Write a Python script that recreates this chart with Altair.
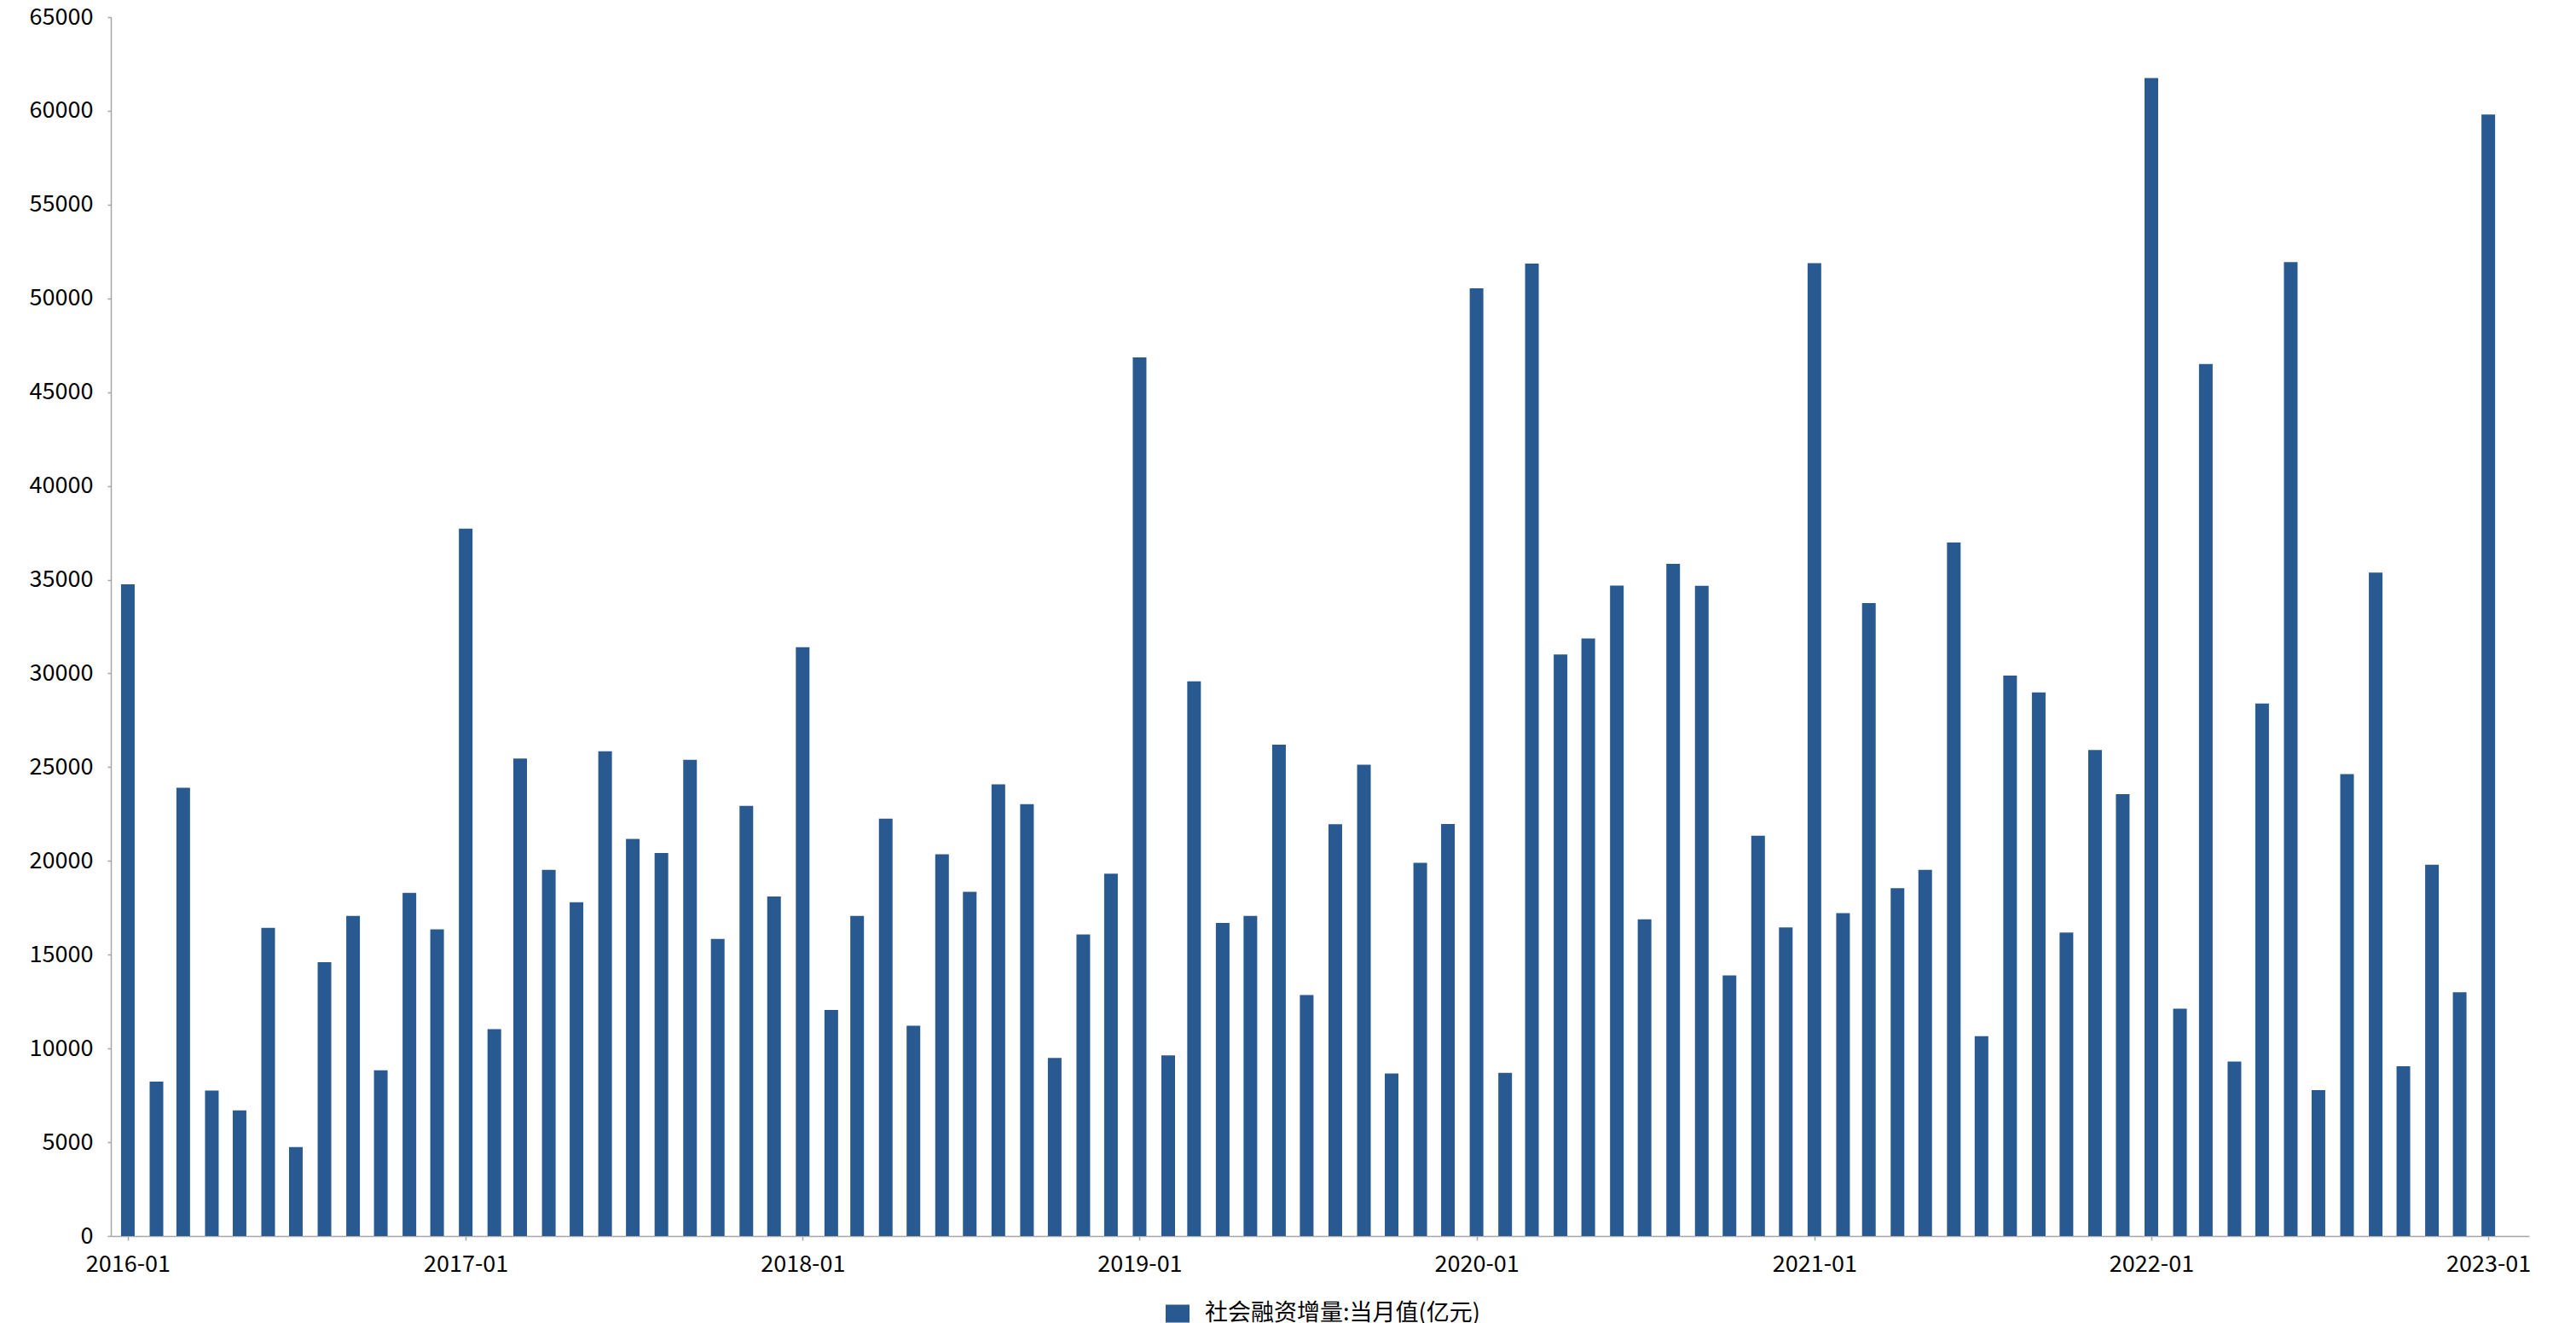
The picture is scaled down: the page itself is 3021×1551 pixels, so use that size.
import altair as alt
import pandas as pd

# Monthly values (亿元), 2016-01 .. 2023-01
v2016 = [34750, 8230, 23900, 7750, 6700, 16430, 4740, 14600, 17070, 8840, 18300, 16350]
v2017 = [37720, 11030, 25460, 19520, 17800, 25850, 21170, 20420, 25390, 15840, 22940, 18100]
v2018 = [31400, 12050, 17070, 22250, 11210, 20350, 18350, 24080, 23030, 9500, 16080, 19320]
v2019 = [46850, 9630, 29580, 16690, 17070, 26200, 12850, 21960, 25130, 8670, 19900, 21970]
v2020 = [50530, 8700, 51860, 31010, 31860, 34680, 16890, 35840, 34670, 13900, 21350, 16450]
v2021 = [51880, 17220, 33750, 18550, 19520, 36980, 10650, 29890, 28990, 16180, 25920, 23560]
v2022 = [61750, 12120, 46500, 9300, 28390, 51930, 7780, 24630, 35380, 9050, 19800, 13000]
v2023 = [59800]

years = [2016, 2017, 2018, 2019, 2020, 2021, 2022, 2023]
tick_years = [2016, 2017, 2018, 2019, 2020, 2021, 2022, 2023]
series_name = "社会融资增量:当月值(亿元)"
bar_color = "#285a91"

values = v2016 + v2017 + v2018 + v2019 + v2020 + v2021 + v2022 + v2023
months = []
for y, arr in zip(years, [v2016, v2017, v2018, v2019, v2020, v2021, v2022, v2023]):
    for m in range(1, len(arr) + 1):
        months.append(f"{y}-{m:02d}-01")

df = pd.DataFrame({"date": months, "value": values, "series": series_name})

FONT = "Noto Sans CJK SC"

chart = (
    alt.Chart(df)
    .mark_bar(size=16)
    .encode(
        x=alt.X(
            "date:T",
            title=None,
            scale=alt.Scale(
                type="utc",
                domain=[
                    alt.DateTime(year=2015, month=12, date=18, hours=5, utc=True),
                    alt.DateTime(year=2023, month=2, date=9, hours=14, utc=True),
                ],
            ),
            axis=alt.Axis(
                values=[alt.DateTime(year=y, month=1, date=1, utc=True) for y in tick_years],
                format="%Y-%m",
                labelAngle=0,
                tickSize=5,
                labelPadding=15,
                grid=False,
                labelOverlap=False,
                labelFont=FONT,
                labelFontSize=27,
                labelColor="#000000",
            ),
        ),
        y=alt.Y(
            "value:Q",
            title=None,
            scale=alt.Scale(domain=[0, 65000], nice=False),
            axis=alt.Axis(
                values=list(range(0, 65001, 5000)),
                format="d",
                tickSize=4,
                labelPadding=17,
                grid=False,
                labelFont=FONT,
                labelFontSize=27,
                labelColor="#000000",
            ),
        ),
        color=alt.Color(
            "series:N",
            scale=alt.Scale(domain=[series_name], range=[bar_color]),
            legend=alt.Legend(
                title=None,
                orient="none",
                legendX=1237,
                legendY=1506,
                symbolType="M-1,-0.75L1,-0.75L1,0.75L-1,0.75Z",
                symbolSize=784,
                symbolStrokeWidth=0,
                labelFontSize=27,
                labelFont=FONT,
                labelColor="#000000",
                labelOffset=18,
                labelLimit=0,
                padding=0,
            ),
        ),
    )
    .properties(
        width=2836,
        height=1429,
        background="white",
        autosize=alt.AutoSizeParams(type="none"),
        padding={"left": 122, "top": 12, "right": 20, "bottom": 102},
    )
    .configure_view(stroke=None)
    .configure_axis(
        domainColor="#a6a6a6",
        tickColor="#a6a6a6",
        domainWidth=1.5,
        tickWidth=1.5,
    )
)

chart.save("out.html", embed_options={"renderer": "svg", "actions": False})
